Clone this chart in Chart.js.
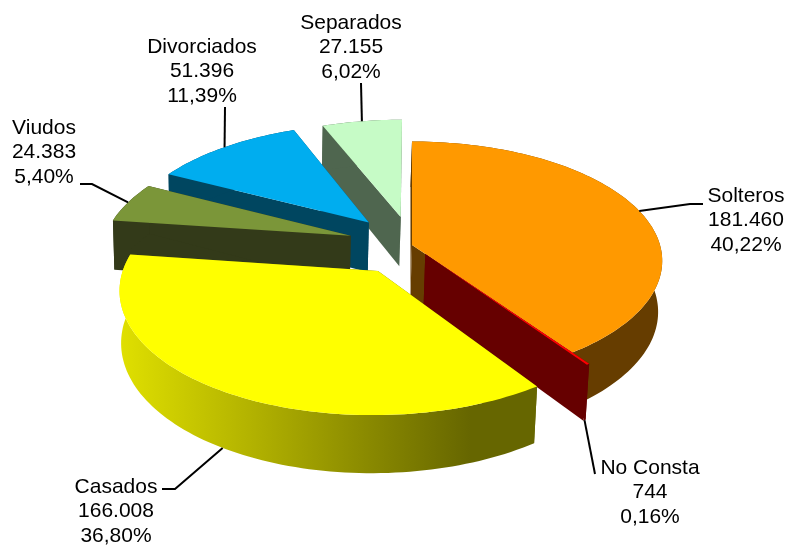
<!DOCTYPE html>
<html>
<head>
<meta charset="utf-8">
<title>Estado civil</title>
<script src="https://cdn.jsdelivr.net/npm/chart.js@4"></script>
<style>
    html, body { margin: 0; padding: 0; background: #fff; }
    canvas { display: block; }
</style>
</head>
<body>
<canvas id="estadoCivilChart" width="787" height="545"></canvas>
<script>
// Chart data
var categories = ['Solteros', 'No Consta', 'Casados', 'Viudos', 'Divorciados', 'Separados'];
var personas = [181460, 744, 166008, 24383, 51396, 27155];
var colores = ['#FF9900', '#FF0000', '#FFFF00', '#7B9639', '#00ADEF', '#C6FBC6'];
var paredes = ['#663D00', '#660000', '#666600', '#333A19', '#004660', '#4F664F'];
var separacion = [0, 23, 63, 65, 66, 62];

// label centre and the elbow of its leader line, same order as categories
var etiquetas = [
    { x: 746, y: 196, codo: [[690, 204], [703, 204]] },
    { x: 650, y: 468, codo: [[595, 474]], abajo: true },
    { x: 116, y: 487, codo: [[175, 489], [162, 489]], abajo: true },
    { x: 44, y: 128, codo: [[92, 184], [80, 184]] },
    { x: 202, y: 47, codo: [[225, 107]] },
    { x: 351, y: 23, codo: [[361, 83]] }
];

// tilt of the pie
var PERSPECTIVA = 0.000536;
var PERSPECTIVA_Z = 0.0002;
var SESGO_Z = 0.03;
var INCLINACION = 0.4728;
var GROSOR = 51;

function proyectar(arc, u, v, z) {
    var w = 1 + PERSPECTIVA * v - PERSPECTIVA_Z * z;
    return [arc.x + u / w + z * SESGO_Z, arc.y - (INCLINACION * v + z) / w];
}

// point of a slice at angle a, radius r, height z
function punto(arc, a, r, z) {
    var mid = (arc.startAngle + arc.endAngle) / 2;
    var off = arc.options.offset;
    var u = Math.cos(a) * r + Math.cos(mid) * off;
    var v = -Math.sin(a) * r - Math.sin(mid) * off;
    return proyectar(arc, u, v, z);
}

function borde(arc, z, invertido) {
    var pasos = Math.max(2, Math.ceil((arc.endAngle - arc.startAngle) * 40));
    var pts = [];
    for (var i = 0; i <= pasos; i++) {
        var a = arc.startAngle + (arc.endAngle - arc.startAngle) * i / pasos;
        pts.push(punto(arc, a, arc.outerRadius, z));
    }
    return invertido ? pts.reverse() : pts;
}

function rellenar(ctx, pts, color) {
    ctx.beginPath();
    pts.forEach(function (p, i) {
        if (i === 0) ctx.moveTo(p[0], p[1]);
        else ctx.lineTo(p[0], p[1]);
    });
    ctx.closePath();
    ctx.fillStyle = color;
    ctx.fill();
}

function cara(ctx, arc, a, color) {
    rellenar(ctx, [
        punto(arc, a, 0, 0),
        punto(arc, a, arc.outerRadius, 0),
        punto(arc, a, arc.outerRadius, -GROSOR),
        punto(arc, a, 0, -GROSOR)
    ], color);
}

var pastel3d = {
    id: 'pastel3d',
    beforeDatasetDraw: function (chart) {
        var ctx = chart.ctx;
        var arcs = chart.getDatasetMeta(0).data;
        var orden = arcs.map(function (arc, i) { return i; });
        // back slices first
        orden.sort(function (a, b) {
            return Math.sin((arcs[a].startAngle + arcs[a].endAngle) / 2) - Math.sin((arcs[b].startAngle + arcs[b].endAngle) / 2);
        });

        orden.forEach(function (i) {
            var arc = arcs[i];
            var centro = punto(arc, arc.startAngle, 0, 0);
            var arriba = borde(arc, 0, false);
            var abajo = borde(arc, -GROSOR, true);

            cara(ctx, arc, arc.startAngle, paredes[i]);
            cara(ctx, arc, arc.endAngle, paredes[i]);

            var pared = paredes[i];
            if (categories[i] === 'Casados') {
                var xs = arriba.map(function (p) { return p[0]; });
                pared = ctx.createLinearGradient(Math.min.apply(null, xs), 0, Math.max.apply(null, xs), 0);
                pared.addColorStop(0, '#E0E000');
                pared.addColorStop(0.84, '#666600');
                pared.addColorStop(1, '#666600');
            }
            rellenar(ctx, arriba.concat(abajo), pared);

            rellenar(ctx, [centro].concat(arriba), colores[i]);
        });
        return false;
    },
    afterDatasetsDraw: function (chart) {
        var ctx = chart.ctx;
        var arcs = chart.getDatasetMeta(0).data;
        arcs.forEach(function (arc, i) {
            var e = etiquetas[i];
            var mid = (arc.startAngle + arc.endAngle) / 2;
            var inicio = punto(arc, mid, arc.outerRadius, e.abajo ? -GROSOR : 0);
            var linea = [inicio].concat(e.codo);

            ctx.beginPath();
            linea.forEach(function (p, j) {
                if (j === 0) ctx.moveTo(p[0], p[1]);
                else ctx.lineTo(p[0], p[1]);
            });
            ctx.strokeStyle = '#000';
            ctx.lineWidth = 2;
            ctx.stroke();

            var texto = [
                categories[i],
                personas[i].toLocaleString('de-DE'),
                (personas[i] / total * 100).toFixed(2).replace('.', ',') + '%'
            ];
            ctx.fillStyle = '#000';
            ctx.font = '21px "Liberation Sans", Arial, sans-serif';
            ctx.textAlign = 'center';
            ctx.textBaseline = 'middle';
            texto.forEach(function (t, j) {
                ctx.fillText(t, e.x, e.y + j * 24.5);
            });
        });
    }
};

var total = personas.reduce(function (a, b) { return a + b; }, 0);

var ctx = document.getElementById('estadoCivilChart').getContext('2d');
var estadoCivilChart = new Chart(ctx, {
    type: 'pie',
    data: {
        labels: categories,
        datasets: [{
            data: personas,
            backgroundColor: colores,
            borderWidth: 0,
            offset: separacion
        }]
    },
    options: {
        responsive: false,
        animation: false,
        radius: 248,
        layout: { padding: { left: 37, bottom: 55 } },
        plugins: {
            legend: { display: false },
            tooltip: { enabled: false }
        }
    },
    plugins: [pastel3d]
});
</script>
</body>
</html>
